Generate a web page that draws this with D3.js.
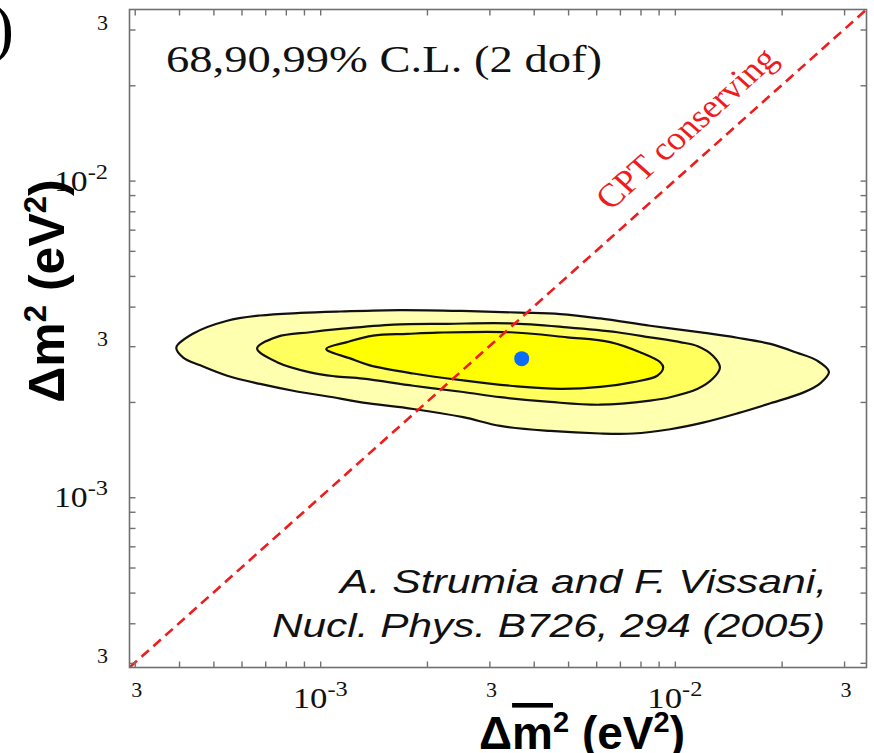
<!DOCTYPE html>
<html>
<head>
<meta charset="utf-8">
<script src="https://cdn.jsdelivr.net/npm/d3@7/dist/d3.min.js"></script>
<style>
  body { margin: 0; background: #ffffff; }
  svg { display: block; }
</style>
</head>
<body>
<svg id="chart" width="874" height="753"></svg>
<script>
// Mass-squared range shown on both axes (eV^2)
const axisDomain = [2.9e-4, 3.47e-2];

// Tick marks (eV^2) and their printed labels
const tickValues = [3e-4, 4e-4, 5e-4, 6e-4, 7e-4, 8e-4, 9e-4,
                    1e-3, 2e-3, 3e-3, 4e-3, 5e-3, 6e-3, 7e-3, 8e-3, 9e-3,
                    1e-2, 2e-2, 3e-2];
const labelValues   = [3e-4, 1e-3, 3e-3, 1e-2, 3e-2];
const labelMantissa = ["3", "10", "3", "10", "3"];
const labelExponent = ["", "-3", "", "-2", ""];

// 99% C.L. region: anti-neutrino (x) vs neutrino (y) mass splitting
const cl99Bar = [3.93e-4, 4.39e-4, 5.47e-4, 6.77e-4, 8.78e-4, 1.14e-3, 1.68e-3, 2.65e-3, 3.66e-3,
                 4.75e-3, 6.16e-3, 8.52e-3, 1.20e-2, 1.50e-2, 1.86e-2, 2.21e-2, 2.52e-2, 2.72e-2,
                 2.57e-2, 2.30e-2, 1.86e-2, 1.50e-2, 1.20e-2, 9.70e-3, 7.63e-3, 6.16e-3, 4.45e-3,
                 3.22e-3, 2.53e-3, 1.83e-3, 1.32e-3, 1.14e-3, 8.39e-4, 6.77e-4, 5.47e-4, 4.59e-4, 4.11e-4];
const cl99 = [2.97e-3, 3.29e-3, 3.61e-3, 3.75e-3, 3.82e-3, 3.86e-3, 3.90e-3, 3.87e-3, 3.83e-3,
              3.79e-3, 3.67e-3, 3.48e-3, 3.31e-3, 3.19e-3, 3.05e-3, 2.86e-3, 2.70e-3, 2.49e-3,
              2.29e-3, 2.14e-3, 1.98e-3, 1.84e-3, 1.72e-3, 1.64e-3, 1.59e-3, 1.59e-3, 1.62e-3,
              1.68e-3, 1.79e-3, 1.90e-3, 1.99e-3, 2.05e-3, 2.17e-3, 2.28e-3, 2.42e-3, 2.61e-3, 2.76e-3];

// 90% C.L. region
const cl90Bar = [6.64e-4, 7.56e-4, 9.37e-4, 1.14e-3, 1.61e-3, 2.28e-3, 3.43e-3, 4.97e-3, 6.88e-3,
                 8.52e-3, 1.035e-2, 1.16e-2, 1.28e-2, 1.34e-2, 1.28e-2, 1.16e-2, 9.70e-3, 8.52e-3,
                 6.16e-3, 4.45e-3, 3.22e-3, 2.53e-3, 1.83e-3, 1.32e-3, 1.10e-3, 9.37e-4, 7.56e-4];
const cl90 = [2.95e-3, 3.21e-3, 3.32e-3, 3.40e-3, 3.51e-3, 3.53e-3, 3.54e-3, 3.44e-3, 3.32e-3,
              3.20e-3, 3.09e-3, 3.00e-3, 2.80e-3, 2.57e-3, 2.37e-3, 2.20e-3, 2.07e-3, 2.02e-3,
              1.96e-3, 2.00e-3, 2.07e-3, 2.15e-3, 2.25e-3, 2.37e-3, 2.41e-3, 2.48e-3, 2.67e-3];

// 68% C.L. region
const cl68Bar = [1.04e-3, 1.19e-3, 1.41e-3, 1.76e-3, 2.14e-3, 3.43e-3, 4.97e-3, 6.57e-3, 7.98e-3,
                 9.09e-3, 9.27e-3, 8.92e-3, 7.63e-3, 6.16e-3, 4.75e-3, 3.59e-3, 2.53e-3, 1.83e-3,
                 1.38e-3, 1.22e-3];
const cl68 = [2.94e-3, 3.09e-3, 3.24e-3, 3.28e-3, 3.31e-3, 3.32e-3, 3.20e-3, 3.09e-3, 2.87e-3,
              2.67e-3, 2.57e-3, 2.42e-3, 2.31e-3, 2.23e-3, 2.20e-3, 2.24e-3, 2.34e-3, 2.46e-3,
              2.61e-3, 2.74e-3];

// Best-fit point
const bestFitBar = 3.70e-3;
const bestFit = 2.74e-3;

// Position of the "CPT conserving" label along the diagonal
const cptLabelAt = 1.255e-2;

const svg = d3.select("#chart");
const frameLeft = 129.5, frameRight = 866.5, frameTop = 9.5, frameBottom = 667.5;

const x = d3.scaleLog().domain(axisDomain).range([frameLeft, frameRight]);
const y = d3.scaleLog().domain(axisDomain).range([frameBottom, frameTop]);

svg.append("defs").append("clipPath").attr("id", "plotClip")
  .append("rect").attr("x", frameLeft).attr("y", frameTop)
  .attr("width", frameRight - frameLeft).attr("height", frameBottom - frameTop);

const plot = svg.append("g").attr("clip-path", "url(#plotClip)");

// Confidence-level regions, outermost first
const regions = [
  { xs: cl99Bar, ys: cl99, fill: "#ffffb0" },
  { xs: cl90Bar, ys: cl90, fill: "#ffff5e" },
  { xs: cl68Bar, ys: cl68, fill: "#ffff00" }
];
const region = d3.line()
  .x(d => x(d[0])).y(d => y(d[1]))
  .curve(d3.curveCatmullRomClosed.alpha(0.5));

regions.forEach(r => {
  plot.append("path")
    .datum(r.xs.map((v, i) => [v, r.ys[i]]))
    .attr("d", region)
    .attr("fill", r.fill)
    .attr("stroke", "#111")
    .attr("stroke-width", 2.2)
    .attr("stroke-linejoin", "round");
});

// CPT-conserving diagonal: m2 = m2bar
plot.append("line")
  .attr("x1", x(axisDomain[0])).attr("y1", y(axisDomain[0]))
  .attr("x2", x(axisDomain[1])).attr("y2", y(axisDomain[1]))
  .attr("stroke", "#ee1c1c")
  .attr("stroke-width", 2.6)
  .attr("stroke-dasharray", "10,6");

// Best-fit marker
plot.append("circle")
  .attr("cx", x(bestFitBar)).attr("cy", y(bestFit))
  .attr("r", 7.5)
  .attr("fill", "#0b6cf6");

// Frame and inward ticks on all four sides
const frame = svg.append("g").attr("stroke", "#707070").attr("fill", "none");
frame.append("rect")
  .attr("x", frameLeft).attr("y", frameTop)
  .attr("width", frameRight - frameLeft).attr("height", frameBottom - frameTop)
  .attr("stroke-width", 1.6);

const tickLen = 6;
const tickStyle = g => g.call(s => s.select(".domain").remove())
  .call(s => s.selectAll(".tick line").attr("stroke", "#707070").attr("stroke-width", 1.4));

svg.append("g").attr("transform", `translate(0,${frameBottom})`)
  .call(d3.axisBottom(x).tickValues(tickValues).tickSize(-tickLen).tickFormat(""))
  .call(tickStyle);
svg.append("g").attr("transform", `translate(0,${frameTop})`)
  .call(d3.axisTop(x).tickValues(tickValues).tickSize(-tickLen).tickFormat(""))
  .call(tickStyle);
svg.append("g").attr("transform", `translate(${frameLeft},0)`)
  .call(d3.axisLeft(y).tickValues(tickValues).tickSize(-tickLen).tickFormat(""))
  .call(tickStyle);
svg.append("g").attr("transform", `translate(${frameRight},0)`)
  .call(d3.axisRight(y).tickValues(tickValues).tickSize(-tickLen).tickFormat(""))
  .call(tickStyle);

// Tick labels
const serif = "'Liberation Serif', 'Times New Roman', serif";
const sans = "'Liberation Sans', Arial, Helvetica, sans-serif";

labelValues.forEach((v, i) => {
  const exp = labelExponent[i];
  // bottom axis
  const bt = svg.append("text")
    .attr("x", x(v) + (exp ? 0 : 2))
    .attr("y", exp ? 708 : 697)
    .attr("text-anchor", "middle")
    .attr("font-family", serif)
    .attr("font-size", exp ? 30 : 22)
    .attr("fill", "#111");
  bt.append("tspan").text(labelMantissa[i]);
  if (exp) {
    bt.append("tspan").attr("dy", -12).attr("font-size", 21).text(exp);
    bt.attr("textLength", 55).attr("lengthAdjust", "spacingAndGlyphs");
  }

  // left axis
  const lt = svg.append("text")
    .attr("x", 108)
    .attr("y", exp ? y(v) + 10 : y(v))
    .attr("text-anchor", "end")
    .attr("font-family", serif)
    .attr("font-size", exp ? 29 : 22)
    .attr("fill", "#111");
  lt.append("tspan").text(labelMantissa[i]);
  if (exp) {
    lt.append("tspan").attr("dy", -12).attr("font-size", 21).text(exp);
    lt.attr("textLength", 54).attr("lengthAdjust", "spacingAndGlyphs");
  }
});

// Confidence-level caption
svg.append("text")
  .attr("x", 166).attr("y", 72)
  .attr("font-family", serif)
  .attr("font-size", 38)
  .attr("textLength", 436)
  .attr("lengthAdjust", "spacingAndGlyphs")
  .attr("fill", "#111")
  .text("68,90,99% C.L. (2 dof)");

// Diagonal label
const cx0 = x(cptLabelAt), cy0 = y(cptLabelAt);
svg.append("text")
  .attr("transform", `translate(${cx0},${cy0}) scale(1.12,1) rotate(-45) translate(0,-19)`)
  .attr("font-family", serif)
  .attr("font-size", 33)
  .attr("fill", "#ee1c1c")
  .attr("text-anchor", "middle")
  .text("CPT conserving");

// Reference
const cite = svg.append("g")
  .attr("font-family", sans)
  .attr("font-style", "italic")
  .attr("font-size", 34)
  .attr("fill", "#111")
  .attr("text-anchor", "end");
cite.append("text").attr("x", 827).attr("y", 593)
  .attr("textLength", 487).attr("lengthAdjust", "spacingAndGlyphs")
  .text("A. Strumia and F. Vissani,");
cite.append("text").attr("x", 825).attr("y", 637)
  .attr("textLength", 553).attr("lengthAdjust", "spacingAndGlyphs")
  .text("Nucl. Phys. B726, 294 (2005)");

// Axis titles
const xt = svg.append("text")
  .attr("x", 582).attr("y", 749)
  .attr("text-anchor", "middle")
  .attr("font-family", sans)
  .attr("font-weight", "bold")
  .attr("font-size", 46)
  .attr("fill", "#000");
xt.append("tspan").text("Δ");
xt.append("tspan").attr("text-decoration", "overline").text("m");
xt.append("tspan").attr("dy", -17).attr("font-size", 29).text("2");
xt.append("tspan").attr("dy", 17).text(" (eV");
xt.append("tspan").attr("dy", -17).attr("font-size", 29).text("2");
xt.append("tspan").attr("dy", 17).text(")");

const yt = svg.append("text")
  .attr("transform", "translate(64,291) rotate(-90)")
  .attr("text-anchor", "middle")
  .attr("font-family", sans)
  .attr("font-weight", "bold")
  .attr("font-size", 50)
  .attr("fill", "#000");
yt.append("tspan").text("Δm");
yt.append("tspan").attr("dy", -18).attr("font-size", 31).text("2");
yt.append("tspan").attr("dy", 18).text(" (eV");
yt.append("tspan").attr("dy", -18).attr("font-size", 31).text("2");
yt.append("tspan").attr("dy", 18).text(")");

// Panel tag fragment at the upper-left edge
svg.append("text")
  .attr("x", 14).attr("y", 50)
  .attr("text-anchor", "end")
  .attr("font-family", serif)
  .attr("font-size", 66)
  .attr("fill", "#000")
  .text(")");
</script>
</body>
</html>
